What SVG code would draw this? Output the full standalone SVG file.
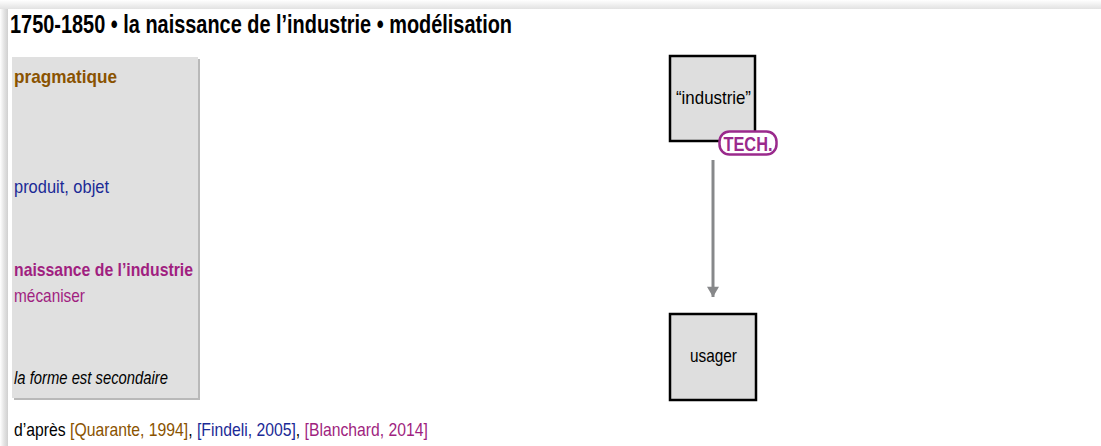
<svg xmlns="http://www.w3.org/2000/svg" width="1101" height="446" viewBox="0 0 1101 446">
<defs>
<linearGradient id="gl" x1="0" x2="1" y1="0" y2="0"><stop offset="0" stop-color="#ffffff"/><stop offset="0.5" stop-color="#e4e4e4"/><stop offset="1" stop-color="#d0d0d0"/></linearGradient>
<linearGradient id="gt" x1="0" x2="0" y1="0" y2="1"><stop offset="0" stop-color="#ffffff"/><stop offset="1" stop-color="#e2e2e2"/></linearGradient>
<marker id="ah" viewBox="0 0 12 14" refX="12" refY="7" markerWidth="14" markerHeight="12" orient="auto" markerUnits="userSpaceOnUse"><path d="M0,0 L12,7 L0,14 Z" fill="#87888a"/></marker>
</defs>
<style>
text{font-family:"Liberation Sans",Arial,sans-serif}
.t{font-size:19px}
.b{font-weight:bold}
.box{fill:#dedede;stroke:#000;stroke-width:2.5}
</style>
<rect width="1101" height="446" fill="#ffffff"/>
<rect x="0" y="0" width="1101" height="9" fill="url(#gt)"/>
<rect x="0" y="9" width="8" height="437" fill="url(#gl)"/>
<g id="title"><text x="10" y="33" font-size="26" class="b" textLength="502" lengthAdjust="spacingAndGlyphs">1750-1850 • la naissance de l’industrie • modélisation</text></g>
<g id="panel">
<rect x="14" y="59" width="186" height="341" fill="#a8a8a8" opacity="0.8"/>
<rect x="12" y="57" width="186" height="341" fill="#e0e0e0"/>
<text x="14" y="83" class="t b" fill="#8a5300" textLength="103" lengthAdjust="spacingAndGlyphs">pragmatique</text>
<text x="14" y="193" class="t" fill="#1b2a96" textLength="95" lengthAdjust="spacingAndGlyphs">produit, objet</text>
<text x="14" y="276" class="t b" fill="#a01f80" textLength="179" lengthAdjust="spacingAndGlyphs">naissance de l’industrie</text>
<text x="14" y="302" class="t" fill="#a01f80" textLength="71" lengthAdjust="spacingAndGlyphs">mécaniser</text>
<text x="14" y="384" class="t" font-style="italic" fill="#000" textLength="154" lengthAdjust="spacingAndGlyphs">la forme est secondaire</text>
</g>
<g id="footer">
<text x="14" y="436" class="t" fill="#000" textLength="414" lengthAdjust="spacingAndGlyphs">d’après <tspan fill="#8a5300">[Quarante, 1994]</tspan>, <tspan fill="#1b2a96">[Findeli, 2005]</tspan>, <tspan fill="#a01f80">[Blanchard, 2014]</tspan></text>
</g>
<g id="connectors"><line x1="713" y1="160" x2="713" y2="297" stroke="#87888a" stroke-width="3" marker-end="url(#ah)"/></g>
<g id="industrie">
<rect x="670" y="56" width="85" height="85" class="box"/>
<text x="713.5" y="104" class="t" text-anchor="middle" textLength="75" lengthAdjust="spacingAndGlyphs">“industrie”</text>
</g>
<g id="tech">
<rect x="719.5" y="131.5" width="57" height="23" rx="10" fill="#fff" stroke="#9a2a8c" stroke-width="2.5"/>
<text x="748" y="150.5" font-size="20" class="b" fill="#9a2a8c" text-anchor="middle" textLength="49" lengthAdjust="spacingAndGlyphs">TECH.</text>
</g>
<g id="usager">
<rect x="670" y="314" width="86" height="86" class="box"/>
<text x="713.5" y="362" class="t" text-anchor="middle" textLength="47" lengthAdjust="spacingAndGlyphs">usager</text>
</g>
</svg>
